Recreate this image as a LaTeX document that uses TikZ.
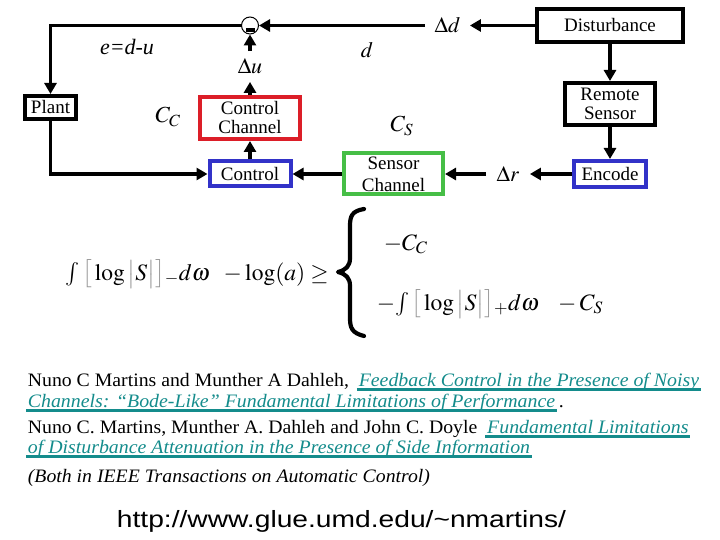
\documentclass[tikz,border=0pt]{standalone}
\usepackage{mathptmx}
\usepackage[no-math]{fontspec}
\setmainfont{Liberation Serif}
\newfontfamily\reffont[FakeStretch=1.04]{Liberation Serif}
\newfontfamily\linkfont[FakeStretch=1.045]{Liberation Serif Italic}
\newfontfamily\urlfont[FakeStretch=1.2]{Liberation Sans}
\usetikzlibrary{arrows.meta}
\definecolor{cred}{RGB}{220,30,40}
\definecolor{cblue}{RGB}{50,50,200}
\definecolor{cgreen}{RGB}{70,190,70}
\definecolor{clink}{RGB}{20,140,140}
\definecolor{cgray}{RGB}{150,150,150}
\newcommand{\gr}[1]{\textcolor{cgray}{#1}}
\begin{document}
\begin{tikzpicture}[x=1pt,y=-1pt, line width=3.8pt,
  >={Triangle[length=11pt,width=12pt]},
  box/.style={draw,line width=4pt,inner sep=0pt,align=center,font=\fontsize{19}{19}\selectfont},
  lab/.style={inner sep=0pt,font=\fontsize{22}{24}\selectfont},
  fml/.style={inner sep=0pt,anchor=base west,font=\fontsize{23.5}{28}\selectfont},
  refline/.style={inner sep=0pt,anchor=base west,font=\fontsize{19}{21}\reffont},
  lnk/.style={inner sep=0pt,anchor=base west,text=clink,font=\fontsize{19}{21}\linkfont},
  uline/.style={draw=clink,line width=2.8pt}]
\useasboundingbox (0,0) rectangle (720,540);
\fill[white] (0,0) rectangle (720,540);

% boxes
\node[box, minimum width=146pt, minimum height=33pt] (dist) at (610,25.5) {Disturbance};
\node[box, minimum width=90pt, minimum height=42pt] (rem) at (610,104) {Remote\\Sensor};
\node[box, draw=cblue, minimum width=72pt, minimum height=26pt] (enc) at (610,174) {Encode};
\node[box, draw=cgreen, minimum width=99pt, minimum height=41pt, font=\fontsize{19}{22}\selectfont] (sc) at (393.5,174) {Sensor\\Channel};
\node[box, draw=cblue, minimum width=81pt, minimum height=25pt] (ctrl) at (250,174) {Control};
\node[box, draw=cred, minimum width=100pt, minimum height=42pt] (cc) at (250,118) {Control\\Channel};
\node[box, minimum width=51pt, minimum height=23pt] (plant) at (50.5,107.5) {Plant};
\node[circle, draw, line width=1pt, minimum size=17pt, inner sep=0pt] (sum) at (250,25.5) {};
\fill (245.5,28.5) rectangle (254.5,32);

% signal labels
\node[lab, minimum width=41pt] (dd) at (447.5,25.5) {$\Delta d$};
\node[lab, minimum height=27pt] (du) at (250,66.5) {$\Delta u$};
\node[lab, minimum width=40pt] (dr) at (508,174) {$\Delta r$};
\node[lab] (edu) at (127,47) {\textit{e=d-u}};
\node[lab] (dlab) at (367,50) {$d$};
\node[lab, font=\fontsize{23}{25}\selectfont] (ccl) at (168,117) {$C_C$};
\node[lab, font=\fontsize{23}{25}\selectfont] (csl) at (402,126) {$C_S$};

% connectors
\draw[->] (dist.west) -- (dd.east);
\draw[->] (dd.west) -- (sum.east);
\draw[->] (sum.west) -| (plant.north);
\draw[->] (plant.south) |- (ctrl.west);
\draw[->] (ctrl.north) -- (cc.south);
\draw[->] (cc.north) -- (du.south);
\draw[->] (du.north) -- (sum.south);
\draw[->] (dist.south) -- (rem.north);
\draw[->] (rem.south) -- (enc.north);
\draw[->] (enc.west) -- (dr.east);
\draw[->] (dr.west) -- (sc.east);
\draw[->] (sc.west) -- (ctrl.east);

% formula
\node[fml] (f1) at (64,280) {$\int\gr{\big[}\log\gr{\big|}S\gr{\big|}\gr{\big]}_{-}d\omega\;\;-\log(a)\geq$};
\draw[line width=4.2pt, line cap=round, line join=round]
  (364,209) .. controls (352,211) and (350,216) .. (350,226)
  -- (350,258) .. controls (350,266) and (346,270) .. (338,272)
  .. controls (346,274) and (350,278) .. (350,286)
  -- (350,318) .. controls (350,328) and (352,333) .. (364,336);
\node[fml] (f2) at (382,250) {$-C_C$};
\node[fml] (f3) at (375,310) {$-\!\int\gr{\big[}\log\gr{\big|}S\gr{\big|}\gr{\big]}_{+}d\omega\;\;\;-C_S$};

% references
\node[refline] (r1a) at (26,386) {Nuno C Martins and Munther A Dahleh,};
\node[lnk] (r1b) at ([xshift=6pt]r1a.base east) {Feedback Control in the Presence of Noisy};
\node[lnk] (r2a) at (26,407) {Channels: “Bode-Like” Fundamental Limitations of Performance};
\node[refline] (r2b) at (r2a.base east) {.};
\node[refline] (r3a) at (26,433) {Nuno C. Martins, Munther A. Dahleh and John C. Doyle};
\node[lnk] (r3b) at ([xshift=6pt]r3a.base east) {Fundamental Limitations};
\node[lnk] (r4a) at (26,453) {of Disturbance Attenuation in the Presence of Side Information};
\node[refline] (r5) at (26,482) {\itshape (Both in IEEE Transactions on Automatic Control)};
\foreach \n in {r1b,r2a,r3b,r4a}
  \draw[uline] ([yshift=-3.3pt]\n.base west) -- ([yshift=-3.3pt]\n.base east);
\node[inner sep=0pt, anchor=base west, font=\fontsize{23.5}{26}\urlfont] (url) at (115,527) {http://www.glue.umd.edu/\textasciitilde nmartins/};
\end{tikzpicture}
\end{document}
